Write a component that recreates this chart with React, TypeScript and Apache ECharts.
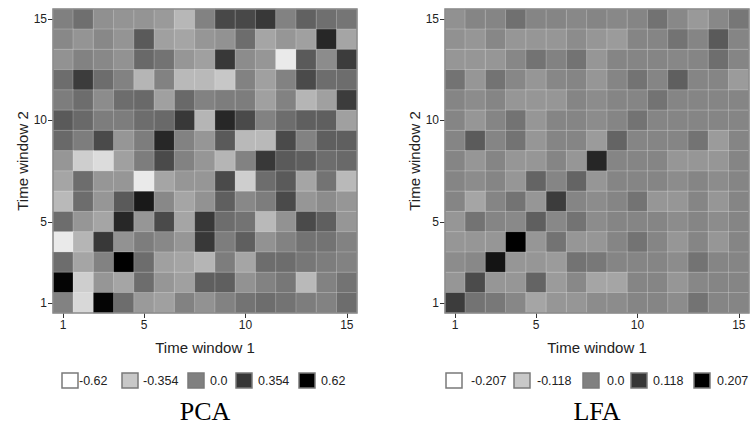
import React, { useEffect, useRef } from 'react';
import * as echarts from 'echarts';

const windows = ['1', '2', '3', '4', '5', '6', '7', '8', '9', '10', '11', '12', '13', '14', '15'];
const shownTickLabels = ['1', '5', '10', '15'];

// rows listed from Time window 2 = 15 (top) down to 1 (bottom); columns Time window 1 = 1..15
const pcaRows = [
  [0.00, 0.08, -0.08, -0.10, -0.10, -0.13, -0.27, -0.01, 0.27, 0.27, 0.35, -0.01, 0.15, 0.08, 0.05],
  [-0.04, -0.10, -0.04, -0.10, 0.18, -0.16, -0.18, -0.11, -0.09, 0.09, -0.18, -0.11, -0.16, 0.43, -0.18],
  [-0.09, -0.01, -0.04, -0.09, 0.11, 0.06, -0.11, -0.16, 0.35, -0.06, -0.11, -0.52, 0.18, -0.06, 0.33],
  [0.09, 0.33, 0.09, -0.01, -0.26, -0.01, -0.28, -0.28, -0.35, -0.01, -0.16, -0.01, 0.26, 0.09, 0.09],
  [0.01, 0.09, -0.06, 0.09, 0.11, -0.16, 0.11, -0.01, 0.01, 0.01, -0.16, -0.01, -0.26, -0.16, 0.33],
  [0.18, 0.11, 0.01, 0.01, 0.09, 0.11, 0.35, -0.26, 0.43, 0.26, -0.01, 0.09, 0.16, 0.16, -0.16],
  [0.11, 0.01, 0.26, -0.11, 0.01, 0.43, -0.01, -0.11, 0.18, -0.28, -0.28, 0.26, -0.01, 0.16, 0.16],
  [-0.11, -0.38, -0.45, -0.16, 0.01, 0.26, -0.01, -0.11, -0.26, -0.01, 0.35, 0.18, 0.16, 0.09, 0.11],
  [-0.18, 0.09, -0.11, -0.11, -0.52, -0.18, -0.11, -0.11, 0.26, -0.38, 0.09, 0.18, -0.18, 0.06, -0.28],
  [-0.28, 0.09, -0.11, 0.18, 0.50, -0.04, -0.18, -0.09, 0.16, -0.04, 0.01, 0.26, -0.11, -0.06, -0.11],
  [0.09, -0.11, -0.18, 0.43, -0.11, 0.26, -0.18, 0.35, 0.09, 0.06, -0.28, -0.09, 0.26, 0.16, -0.11],
  [-0.52, -0.26, 0.35, -0.09, 0.01, -0.04, -0.11, 0.35, 0.01, 0.16, -0.09, -0.01, 0.06, 0.06, -0.01],
  [0.09, -0.18, -0.01, 0.62, 0.09, -0.16, -0.18, -0.26, 0.01, -0.18, 0.09, 0.09, 0.04, 0.01, -0.01],
  [0.60, -0.38, -0.11, -0.18, 0.09, -0.11, -0.16, 0.16, 0.16, -0.09, -0.01, 0.04, -0.28, -0.01, 0.06],
  [-0.01, -0.43, 0.60, 0.09, -0.13, -0.16, -0.01, -0.09, -0.01, 0.06, 0.09, 0.06, 0.01, -0.01, 0.09],
];

const lfaRows = [
  [-0.028, -0.009, -0.009, 0.025, -0.009, -0.009, -0.014, -0.009, -0.014, -0.009, 0.022, -0.014, -0.041, -0.014, 0.014],
  [-0.028, -0.037, -0.012, -0.037, -0.037, -0.037, -0.020, -0.037, -0.045, -0.009, -0.009, 0.020, -0.009, 0.061, -0.009],
  [-0.037, -0.037, -0.037, -0.012, 0.020, -0.004, 0.020, -0.037, -0.009, -0.009, -0.009, -0.012, -0.009, 0.028, -0.009],
  [0.020, -0.037, 0.020, -0.012, -0.037, -0.012, -0.009, -0.037, -0.009, 0.020, -0.009, 0.053, -0.009, -0.009, -0.045],
  [-0.009, -0.020, -0.009, -0.037, -0.037, -0.037, -0.009, -0.020, -0.009, -0.009, 0.020, -0.009, -0.009, -0.009, -0.009],
  [-0.009, -0.037, -0.009, 0.020, -0.037, -0.009, -0.009, -0.020, -0.009, 0.020, -0.009, -0.009, -0.009, -0.009, -0.009],
  [-0.009, 0.060, -0.009, 0.020, -0.037, -0.009, -0.009, -0.045, 0.045, -0.009, -0.009, -0.009, 0.020, -0.045, -0.009],
  [-0.009, -0.037, -0.009, -0.037, -0.037, -0.009, -0.037, 0.145, -0.009, -0.009, -0.009, -0.037, -0.037, -0.037, -0.009],
  [-0.009, -0.020, -0.009, -0.037, 0.045, -0.009, 0.045, -0.037, -0.009, -0.009, -0.009, -0.020, -0.009, -0.020, -0.009],
  [-0.009, -0.061, -0.009, 0.020, -0.037, 0.110, -0.009, -0.020, -0.009, 0.020, -0.037, -0.037, -0.009, -0.037, -0.009],
  [-0.037, 0.020, -0.009, -0.016, 0.053, -0.014, 0.020, -0.020, -0.009, -0.009, -0.009, -0.020, -0.009, -0.020, -0.009],
  [-0.037, -0.037, -0.037, 0.207, -0.037, 0.020, -0.037, -0.037, -0.009, 0.020, -0.009, -0.037, -0.009, -0.037, -0.009],
  [-0.020, -0.014, 0.175, -0.037, -0.037, -0.045, 0.020, 0.012, -0.009, -0.009, -0.009, -0.020, 0.020, -0.009, -0.009],
  [-0.037, 0.085, -0.037, -0.037, 0.045, -0.045, -0.014, -0.061, -0.061, -0.009, -0.009, -0.037, -0.012, -0.009, -0.009],
  [0.110, 0.020, 0.012, -0.012, -0.061, -0.037, -0.037, -0.020, -0.020, -0.009, -0.009, -0.020, 0.020, -0.009, -0.009],
];

const pcaRange = 0.62;
const lfaRange = 0.207;
const pcaLegendLabels = ['-0.62', '-0.354', '0.0', '0.354', '0.62'];
const pcaLegendValues = [-0.62, -0.354, 0, 0.354, 0.62];
const lfaLegendLabels = ['-0.207', '-0.118', '0.0', '0.118', '0.207'];
const lfaLegendValues = [-0.207, -0.118, 0, 0.118, 0.207];
const panelTitles = ['PCA', 'LFA'];

// layout
const GRID_SIZE = 304;
const gridLefts = [53, 445];
const GRID_TOP = 9;
const legendSquareX = [
  [62, 122, 188, 236, 299],
  [446, 514, 583, 631, 694],
];
const legendTextX = [
  [79, 143, 210, 258, 321],
  [471, 537, 607, 653, 717],
];

const toData = (rows: number[][]) => {
  const out: [number, number, number][] = [];
  rows.forEach((row, r) => {
    row.forEach((v, c) => {
      out.push([c, rows.length - 1 - r, v]);
    });
  });
  return out;
};

const grayOf = (v: number, range: number) => {
  const g = Math.round((255 * (range - v)) / (2 * range));
  const h = Math.max(0, Math.min(255, g)).toString(16).padStart(2, '0');
  return '#' + h + h + h;
};

const FONT = 'Liberation Sans, Arial, sans-serif';

export default function App() {
  const ref = useRef<HTMLDivElement>(null);

  useEffect(() => {
    if (!ref.current) return;
    const chart = echarts.init(ref.current, undefined, { renderer: 'svg' });
    const tickShown = (i: number) => shownTickLabels.includes(windows[i]);

    const makeX = (gi: number) => ({
      type: 'category',
      gridIndex: gi,
      data: windows,
      axisLine: { show: false },
      axisTick: {
        show: true,
        alignWithLabel: true,
        interval: tickShown,
        length: 5,
        lineStyle: { color: '#333', width: 1 },
      },
      axisLabel: { interval: tickShown, fontSize: 12, color: '#222', margin: 6, fontFamily: FONT },
      splitLine: { show: false },
      name: 'Time window 1',
      nameLocation: 'middle',
      nameGap: 27,
      nameTextStyle: { fontSize: 15, color: '#222', fontFamily: FONT },
    });
    const makeY = (gi: number) => ({
      type: 'category',
      gridIndex: gi,
      data: windows,
      axisLine: { show: false },
      axisTick: {
        show: true,
        alignWithLabel: true,
        interval: tickShown,
        length: 5,
        lineStyle: { color: '#333', width: 1 },
      },
      axisLabel: { interval: tickShown, fontSize: 12, color: '#222', margin: 6, fontFamily: FONT },
      splitLine: { show: false },
      name: 'Time window 2',
      nameLocation: 'middle',
      nameGap: 22,
      nameTextStyle: { fontSize: 15, color: '#222', fontFamily: FONT },
    });

    const graphics: any[] = [];
    gridLefts.forEach((gl) => {
      graphics.push({
        type: 'rect',
        z: 100,
        shape: { x: gl, y: GRID_TOP, width: GRID_SIZE, height: GRID_SIZE },
        style: { fill: 'none', stroke: '#8a8a8a', lineWidth: 1.5 },
        silent: true,
      });
    });
    const legends = [
      { labels: pcaLegendLabels, values: pcaLegendValues, range: pcaRange },
      { labels: lfaLegendLabels, values: lfaLegendValues, range: lfaRange },
    ];
    legends.forEach((lg, p) => {
      lg.values.forEach((v, i) => {
        graphics.push({
          type: 'rect',
          shape: { x: legendSquareX[p][i], y: 373, width: 16, height: 15 },
          style: { fill: grayOf(v, lg.range), stroke: '#7a7a7a', lineWidth: 1.5 },
          silent: true,
        });
        graphics.push({
          type: 'text',
          x: legendTextX[p][i],
          y: 381,
          style: {
            text: lg.labels[i],
            fontSize: 12.5,
            fontFamily: FONT,
            fill: '#222',
            textVerticalAlign: 'middle',
            textAlign: 'left',
          },
          silent: true,
        });
      });
      graphics.push({
        type: 'text',
        x: gridLefts[p] + GRID_SIZE / 2,
        y: 411,
        style: {
          text: panelTitles[p],
          fontSize: 26,
          fontFamily: 'Liberation Serif, Times New Roman, serif',
          fill: '#000',
          textAlign: 'center',
          textVerticalAlign: 'middle',
        },
        silent: true,
      });
    });

    chart.setOption({
      animation: false,
      backgroundColor: '#ffffff',
      grid: gridLefts.map((gl) => ({
        left: gl,
        top: GRID_TOP,
        width: GRID_SIZE,
        height: GRID_SIZE,
        containLabel: false,
      })),
      xAxis: [makeX(0), makeX(1)],
      yAxis: [makeY(0), makeY(1)],
      visualMap: [
        {
          type: 'continuous',
          show: false,
          seriesIndex: 0,
          min: -pcaRange,
          max: pcaRange,
          inRange: { color: ['#ffffff', '#000000'] },
        },
        {
          type: 'continuous',
          show: false,
          seriesIndex: 1,
          min: -lfaRange,
          max: lfaRange,
          inRange: { color: ['#ffffff', '#000000'] },
        },
      ],
      series: [
        {
          type: 'heatmap',
          xAxisIndex: 0,
          yAxisIndex: 0,
          data: toData(pcaRows),
          itemStyle: { borderColor: 'rgba(255,255,255,0.22)', borderWidth: 1 },
          emphasis: { disabled: true },
        },
        {
          type: 'heatmap',
          xAxisIndex: 1,
          yAxisIndex: 1,
          data: toData(lfaRows),
          itemStyle: { borderColor: 'rgba(255,255,255,0.22)', borderWidth: 1 },
          emphasis: { disabled: true },
        },
      ],
      graphic: graphics,
    });

    return () => chart.dispose();
  }, []);

  return (
    <div
      ref={ref}
      style={{ position: 'absolute', left: 0, top: 0, width: 751, height: 438, background: '#fff' }}
    />
  );
}
